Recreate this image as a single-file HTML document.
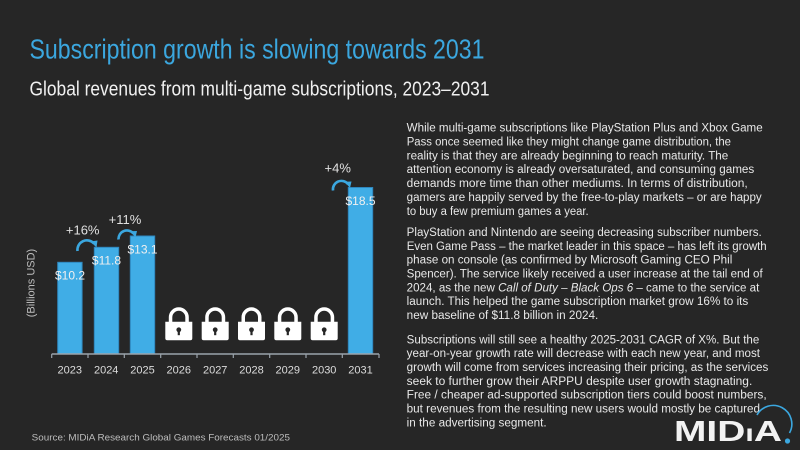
<!DOCTYPE html>
<html>
<head>
<meta charset="utf-8">
<style>
  html, body { margin: 0; padding: 0; background: #262626; }
  body { width: 800px; height: 450px; overflow: hidden; }
  svg { display: block; }
  text { font-family: "Liberation Sans", "DejaVu Sans", sans-serif; }
</style>
</head>
<body>
<svg width="800" height="450" viewBox="0 0 800 450" xmlns="http://www.w3.org/2000/svg">
  <rect x="0" y="0" width="800" height="450" fill="#262626"/>

  <!-- Titles -->
  <text x="29.5" y="58.3" font-size="28" fill="#3ba7df" textLength="455" lengthAdjust="spacingAndGlyphs">Subscription growth is slowing towards 2031</text>
  <text x="29.5" y="95.7" font-size="20" fill="#f0f0f0" textLength="460" lengthAdjust="spacingAndGlyphs">Global revenues from multi-game subscriptions, 2023–2031</text>

  <!-- Y axis label -->
  <text x="0" y="0" font-size="11" fill="#bdbdbd" text-anchor="middle" transform="translate(34.5,283) rotate(-90)">(Billions USD)</text>

  <!-- Bars -->
  <g fill="#40ade6" stroke="#2f86bd" stroke-width="1">
    <rect x="57.7" y="262.3" width="24.4" height="91.7"/>
    <rect x="94.3" y="247.3" width="24.4" height="106.7"/>
    <rect x="130.3" y="236" width="24.4" height="118"/>
    <rect x="348.3" y="187.5" width="24.4" height="166.5"/>
  </g>

  <!-- Value labels -->
  <g font-size="12" fill="#f0f0f0" text-anchor="middle">
    <text x="70" y="279.5">$10.2</text>
    <text x="106.5" y="264.5">$11.8</text>
    <text x="142.5" y="253.5">$13.1</text>
    <text x="360.5" y="205">$18.5</text>
  </g>

  <!-- Growth labels -->
  <g font-size="13" fill="#e0e0e0" text-anchor="middle">
    <text x="82.7" y="234.5">+16%</text>
    <text x="125" y="224">+11%</text>
    <text x="337.7" y="172.5">+4%</text>
  </g>

  <!-- Growth arrows -->
  <g fill="none" stroke="#3ba7df" stroke-width="2.6" stroke-linecap="butt">
    <path d="M77.5,251 A9.5 9.5 0 0 1 94,243.5"/>
    <path d="M118.5,239.5 A8.5 8.5 0 0 1 133.5,233.5"/>
    <path d="M333,190.5 A8.5 8.5 0 0 1 348,184"/>
  </g>
  <g fill="#3ba7df">
    <polygon points="90.5,241.5 97.5,240.5 96.5,247.5"/>
    <polygon points="130.2,231.3 137,231 135.5,237.5"/>
    <polygon points="344.7,181.8 351.5,181.5 350,188"/>
  </g>

  <!-- Locks -->
  <defs>
    <g id="lock">
      <path d="M-8.25,323 V317.3 A8.25 8.25 0 0 1 8.25,317.3 V323" fill="none" stroke="#ffffff" stroke-width="3.5"/>
      <path d="M-13.5,321.7 H13.5 V338.3 Q13.5,340.3 11.5,340.3 H-11.5 Q-13.5,340.3 -13.5,338.3 Z" fill="#ffffff"/>
      <circle cx="0" cy="329.8" r="2.4" fill="#262626"/>
      <rect x="-1.1" y="329.8" width="2.2" height="5.4" fill="#262626"/>
    </g>
  </defs>
  <use href="#lock" x="178.8" y="0"/>
  <use href="#lock" x="215.2" y="0"/>
  <use href="#lock" x="251.5" y="0"/>
  <use href="#lock" x="287.8" y="0"/>
  <use href="#lock" x="324.2" y="0"/>

  <!-- Axis -->
  <line x1="51.7" y1="354" x2="379" y2="354" stroke="#9aa3ab" stroke-width="1.5"/>
  <g stroke="#9aa3ab" stroke-width="1.2">
    <line x1="51.7" y1="354" x2="51.7" y2="358"/>
    <line x1="88" y1="354" x2="88" y2="358"/>
    <line x1="124.3" y1="354" x2="124.3" y2="358"/>
    <line x1="160.7" y1="354" x2="160.7" y2="358"/>
    <line x1="197" y1="354" x2="197" y2="358"/>
    <line x1="233.3" y1="354" x2="233.3" y2="358"/>
    <line x1="269.7" y1="354" x2="269.7" y2="358"/>
    <line x1="306" y1="354" x2="306" y2="358"/>
    <line x1="342.3" y1="354" x2="342.3" y2="358"/>
    <line x1="379" y1="354" x2="379" y2="358"/>
  </g>
  <g font-size="11" fill="#dcdcdc" text-anchor="middle">
    <text x="69.8" y="373.3">2023</text>
    <text x="106.2" y="373.3">2024</text>
    <text x="142.5" y="373.3">2025</text>
    <text x="178.8" y="373.3">2026</text>
    <text x="215.2" y="373.3">2027</text>
    <text x="251.5" y="373.3">2028</text>
    <text x="287.8" y="373.3">2029</text>
    <text x="324.2" y="373.3">2030</text>
    <text x="360.5" y="373.3">2031</text>
  </g>

  <!-- Right text -->
  <g font-size="11.5" fill="#e8e8e8">
    <text x="406.7" y="131.7" textLength="356" lengthAdjust="spacingAndGlyphs">While multi-game subscriptions like PlayStation Plus and Xbox Game</text>
    <text x="406.7" y="145.5" textLength="324.3" lengthAdjust="spacingAndGlyphs">Pass once seemed like they might change game distribution, the</text>
    <text x="406.7" y="159.4" textLength="321.6" lengthAdjust="spacingAndGlyphs">reality is that they are already beginning to reach maturity. The</text>
    <text x="406.7" y="173.2" textLength="347.6" lengthAdjust="spacingAndGlyphs">attention economy is already oversaturated, and consuming games</text>
    <text x="406.7" y="187.1" textLength="341" lengthAdjust="spacingAndGlyphs">demands more time than other mediums. In terms of distribution,</text>
    <text x="406.7" y="201" textLength="355" lengthAdjust="spacingAndGlyphs">gamers are happily served by the free-to-play markets – or are happy</text>
    <text x="406.7" y="214.8" textLength="182" lengthAdjust="spacingAndGlyphs">to buy a few premium games a year.</text>

    <text x="406.7" y="236" textLength="355" lengthAdjust="spacingAndGlyphs">PlayStation and Nintendo are seeing decreasing subscriber numbers.</text>
    <text x="406.7" y="249.8" textLength="360" lengthAdjust="spacingAndGlyphs">Even Game Pass – the market leader in this space – has left its growth</text>
    <text x="406.7" y="263.7" textLength="325.6" lengthAdjust="spacingAndGlyphs">phase on console (as confirmed by Microsoft Gaming CEO Phil</text>
    <text x="406.7" y="277.5" textLength="356" lengthAdjust="spacingAndGlyphs">Spencer). The service likely received a user increase at the tail end of</text>
    <text x="406.7" y="291.4" textLength="352.6" lengthAdjust="spacingAndGlyphs">2024, as the new <tspan font-style="italic">Call of Duty – Black Ops 6</tspan> – came to the service at</text>
    <text x="406.7" y="305.2" textLength="341.6" lengthAdjust="spacingAndGlyphs">launch. This helped the game subscription market grow 16% to its</text>
    <text x="406.7" y="319.1" textLength="191.6" lengthAdjust="spacingAndGlyphs">new baseline of $11.8 billion in 2024.</text>

    <text x="406.7" y="343.3" textLength="352.6" lengthAdjust="spacingAndGlyphs">Subscriptions will still see a healthy 2025-2031 CAGR of X%. But the</text>
    <text x="406.7" y="357.2" textLength="353.3" lengthAdjust="spacingAndGlyphs">year-on-year growth rate will decrease with each new year, and most</text>
    <text x="406.7" y="371" textLength="361.6" lengthAdjust="spacingAndGlyphs">growth will come from services increasing their pricing, as the services</text>
    <text x="406.7" y="384.9" textLength="345.6" lengthAdjust="spacingAndGlyphs">seek to further grow their ARPPU despite user growth stagnating.</text>
    <text x="406.7" y="398.7" textLength="360" lengthAdjust="spacingAndGlyphs">Free / cheaper ad-supported subscription tiers could boost numbers,</text>
    <text x="406.7" y="412.6" textLength="353.3" lengthAdjust="spacingAndGlyphs">but revenues from the resulting new users would mostly be captured</text>
    <text x="406.7" y="426.4" textLength="140" lengthAdjust="spacingAndGlyphs">in the advertising segment.</text>
  </g>

  <!-- Source -->
  <text x="31.7" y="440.5" font-size="9.5" fill="#bdbdbd" textLength="258.3" lengthAdjust="spacingAndGlyphs">Source: MIDiA Research Global Games Forecasts 01/2025</text>

  <!-- Logo -->
  <path d="M757,415 A17 17 0 0 1 789.5,433" fill="none" stroke="#3ba7df" stroke-width="1.6"/>
  <circle cx="787.5" cy="441" r="2.6" fill="#3ba7df"/>
  <text x="674" y="441" font-size="29" font-weight="bold" fill="#f2f2f2" textLength="108" lengthAdjust="spacingAndGlyphs">MID<tspan font-size="23">ı</tspan>A</text>
</svg>
</body>
</html>
